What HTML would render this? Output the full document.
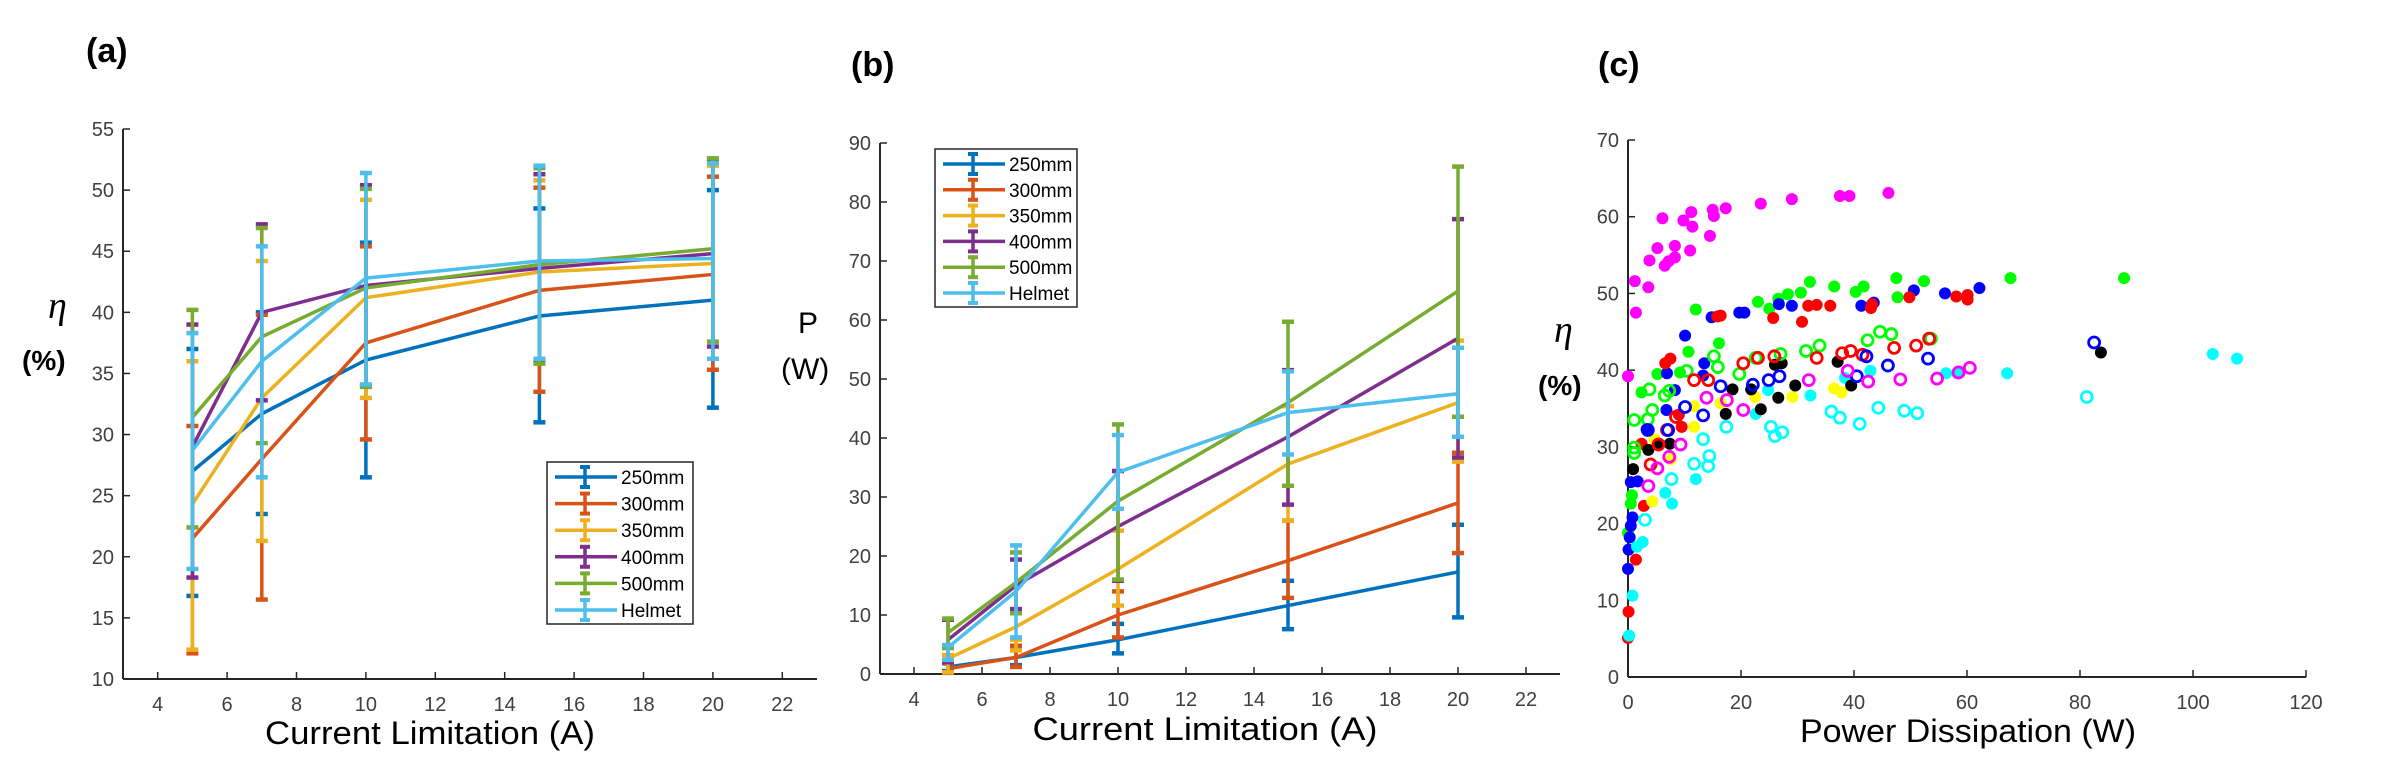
<!DOCTYPE html>
<html><head><meta charset="utf-8"><style>
html,body{margin:0;padding:0;background:#fff;}
svg{display:block;font-family:"Liberation Sans",sans-serif;}
.tk{fill:#404040;font-size:20px;font-family:"Liberation Sans Narrow","Liberation Sans",sans-serif;}
</style></head><body>
<svg id="fig" width="2393" height="776" viewBox="0 0 2393 776">
<text x="86" y="62" font-size="34" font-weight="bold" font-family="Liberation Sans Narrow,Liberation Sans,sans-serif">(a)</text>
<text x="851" y="76" font-size="34" font-weight="bold" font-family="Liberation Sans Narrow,Liberation Sans,sans-serif">(b)</text>
<text x="1598" y="76" font-size="34" font-weight="bold" font-family="Liberation Sans Narrow,Liberation Sans,sans-serif">(c)</text>
<text x="48" y="318" font-size="38" font-style="italic" font-family="Liberation Serif,serif">η</text>
<text x="22" y="370" font-size="28" font-weight="bold">(%)</text>
<text x="798" y="333" font-size="30">P</text>
<text x="781" y="379" font-size="30">(W)</text>
<text x="1554" y="342" font-size="38" font-style="italic" font-family="Liberation Serif,serif">η</text>
<text x="1538" y="395" font-size="28" font-weight="bold">(%)</text>
<text x="430" y="744" font-size="32" text-anchor="middle" textLength="330" lengthAdjust="spacingAndGlyphs">Current Limitation (A)</text>
<text x="1205" y="740" font-size="32" text-anchor="middle" textLength="345" lengthAdjust="spacingAndGlyphs">Current Limitation (A)</text>
<text x="1968" y="742" font-size="32" text-anchor="middle" textLength="336" lengthAdjust="spacingAndGlyphs">Power Dissipation (W)</text>
</svg>
<script>
const NS="http://www.w3.org/2000/svg";
const svg=document.getElementById('fig');
// ---- Data panels a & b ----
const currents=[5,7,10,15,20];
const seriesNames=['250mm','300mm','350mm','400mm','500mm','Helmet'];
const seriesColors=['#0072BD','#D95319','#EDB120','#7E2F8E','#77AC30','#4DBEEE'];
const effMean=[[27,31.7,36.1,39.7,41],[21.5,28,37.5,41.8,43.1],[24.3,33,41.2,43.3,44],[29,40,42.2,43.6,44.8],[31.4,38,42,43.9,45.2],[28.7,36,42.8,44.2,44.4]];
const effHigh=[[37,40,45.7,48.5,50],[30.7,39.8,45.4,50.2,51.1],[36,44.2,49.2,50.8,52],[39,47.2,50.4,51.3,52.4],[40.2,46.9,50.1,51.8,52.6],[38.3,45.4,51.4,52,52.2]];
const effLow=[[16.8,23.5,26.5,31,32.2],[12.1,16.5,29.6,33.5,35.3],[12.4,21.3,33,36,36.2],[18.3,32.8,34,36,37.2],[22.4,29.3,33.9,35.8,37.6],[19,26.5,34.1,36.2,36.2]];
const powMean=[[1.2,2.8,5.8,11.6,17.3],[0.9,2.8,10,19.2,29],[2.6,8,17.8,35.6,46],[5.8,15,25,40.2,56.9],[7,15.5,29.3,46,64.9],[4.5,14,34.2,44.3,47.5]];
const powHigh=[[2.2,4.5,8.5,15.8,25.3],[1.8,4.8,14,26,37.5],[3.2,5.8,24.3,45.4,56.5],[9.2,19.4,34.4,51.5,77.1],[9.4,20.6,42.3,59.7,86],[4.9,21.8,40.5,51.3,55.3]];
const powLow=[[0.5,1.5,3.5,7.6,9.6],[0.2,1.2,6.2,12.9,20.5],[0.3,4,11.6,26,36],[2,11,15.8,28.7,36.7],[4.4,10.3,16,31.9,43.6],[2.4,6.2,28,37.2,40.2]];
const xTicksAB=[4,6,8,10,12,14,16,18,20,22];
const yTicksA=[10,15,20,25,30,35,40,45,50,55];
const yTicksB=[0,10,20,30,40,50,60,70,80,90];
// ---- Data panel c ----
const cMagentaX=[0,1.2,1.4,3.6,3.8,5.2,6.1,6.5,7.2,8.3,8.3,9.8,11,11.2,11.4,14.5,15,15.2,17.3,23.5,29,37.5,39.2,46.1];
const cMagentaY=[39.2,51.6,47.5,50.8,54.3,55.9,59.8,53.6,54.2,56.2,54.7,59.5,55.6,60.6,58.7,57.5,60.9,60.1,61.1,61.7,62.3,62.7,62.7,63.1];
const cGreenX=[0,0.5,0.7,2.4,5.2,9.2,10.7,12,16.1,23,25,26.6,28.3,30.6,32.2,36.5,40.3,41.7,47.5,47.7,52.4,67.7,87.8];
const cGreenY=[18.8,22.6,23.7,37.1,39.5,39.7,42.4,47.9,43.5,48.9,48,49.3,49.9,50.1,51.5,50.9,50.2,50.9,52,49.5,51.6,52,52];
const cBlueX=[0,0.1,0.3,0.5,0.8,0.5,1.7,3.3,6.8,6.9,8.3,10.1,13.5,13.3,14.8,19.7,20.6,26.7,29,41.3,43.5,50.6,56.1,62.2];
const cBlueY=[14.1,16.6,18.2,19.7,20.8,25.4,25.5,32.3,34.8,39.6,37.4,44.5,40.9,39.3,46.9,47.5,47.5,48.6,48.4,48.4,48.8,50.4,50,50.7];
const cRedX=[0,0.1,1.4,2.8,2.4,6.6,7.5,9,9.5,15.8,16.4,25.7,30.8,31.9,33.4,35.8,43,43.2,49.8,58.1,60.1,60.1];
const cRedY=[5.1,8.5,15.3,22.3,30.4,40.9,41.5,34.2,32.6,47,47.1,46.8,46.3,48.4,48.5,48.4,48.1,48.6,49.5,49.6,49.2,49.8];
const cBlackX=[0.9,3.6,5.5,7.4,17.3,18.5,21.8,23.5,26,26.6,27.2,29.6,37.1,39.5,83.7];
const cBlackY=[27.1,29.6,30.4,30.4,34.3,37.5,37.5,34.9,40.7,36.4,40.9,38,41.1,38,42.3];
const cYellowX=[4.3,4.7,7.6,11.7,11.7,16.4,22.5,29.1,36.5,37.8];
const cYellowY=[22.9,31,28.4,32.6,35.3,35.7,36.5,36.5,37.6,37.1];
const cCyanX=[0.2,0.8,2.6,1.6,6.6,7.8,12,22.6,24.8,32.3,38.4,42.9,56.3,58.3,67.1,103.5,107.8];
const cCyanY=[5.4,10.6,17.6,17,24,22.6,25.8,34.3,37.4,36.7,39,39.9,39.6,39.6,39.6,42.1,41.5];
const oGreenX=[1.1,3.5,1.1,1.1,3.8,4.3,6.5,7.3,10.4,15.2,15.9,19.7,22.6,27,31.5,33.9,42.4,44.6,46.6,53.6];
const oGreenY=[33.5,33.6,29.9,29.2,37.5,34.8,36.7,37.3,39.9,41.8,40.4,39.5,41.6,42.1,42.5,43.2,43.9,45,44.7,44.1];
const oRedX=[4,5.4,8.5,11.7,14.2,20.4,23,25.9,33.4,37.9,39.4,41.5,47.1,51,53.3,6.9];
const oRedY=[27.7,30.3,33.9,38.7,38.7,40.9,41.6,41.8,41.6,42.2,42.5,42,42.9,43.2,44.1,32.2];
const oBlueX=[3.5,7.1,10.1,13.3,16.4,22.1,24.9,26.8,40.5,42.2,46,53.1,82.5];
const oBlueY=[32.2,32.2,35.2,34.1,37.9,38.1,38.7,39.2,39.2,41.8,40.6,41.5,43.6];
const oMagentaX=[3.6,5.2,7.3,9.3,13.9,17.5,20.4,32,38.9,42.5,48.2,54.7,58.5,60.5];
const oMagentaY=[24.9,27.2,28.7,30.3,36.4,36.1,34.8,38.7,39.9,38.5,38.8,38.9,39.7,40.3];
const oCyanX=[3,7.7,11.7,13.3,14.2,14.4,17.4,25.3,26,27.3,36,37.5,41,44.3,48.9,51.2,81.2];
const oCyanY=[20.5,25.8,27.8,31,27.5,28.8,32.6,32.6,31.4,31.9,34.6,33.8,33,35.1,34.7,34.4,36.5];
const xTicksC=[0,20,40,60,80,100,120];
const yTicksC=[0,10,20,30,40,50,60,70];

function el(tag,attrs,parent){const e=document.createElementNS(NS,tag);for(const k in attrs)e.setAttribute(k,attrs[k]);(parent||svg).appendChild(e);return e;}
function scale(d0,d1,p0,p1){return v=>p0+(v-d0)/(d1-d0)*(p1-p0);}

function axes(g,sx,sy,xr,yr,xt,yt,prefix){
  const x0=sx(xr[0]),x1=sx(xr[1]),y0=sy(yr[0]),y1=sy(yr[1]);
  const ax=el('line',{x1:x0,y1:y0,x2:x1,y2:y0,stroke:'#262626','stroke-width':2},g);
  
  
  const ay=el('line',{x1:x0,y1:y0,x2:x0,y2:y1,stroke:'#262626','stroke-width':2},g);
  
  
  xt.forEach(v=>{const x=sx(v);
    el('line',{x1:x,y1:y0,x2:x,y2:y0-7,stroke:'#262626','stroke-width':1.5},g);
    const t=el('text',{x:x,y:y0+32,'text-anchor':'middle',class:'tk'},g);t.textContent=v;
    
    });
  yt.forEach(v=>{const y=sy(v);
    el('line',{x1:x0,y1:y,x2:x0+7,y2:y,stroke:'#262626','stroke-width':1.5},g);
    const t=el('text',{x:x0-9,y:y+7,'text-anchor':'end',class:'tk'},g);t.textContent=v;
    
    });
}

function errPanel(prefix,sx,sy,mean,hi,lo){
  const g=el('g',{});
  
  
  seriesNames.forEach((n,i)=>{
    const c=seriesColors[i];
    const sg=el('g',{},g);
    
    
    currents.forEach((x,j)=>{
      const X=sx(x);
      el('line',{x1:X,y1:sy(hi[i][j]),x2:X,y2:sy(lo[i][j]),stroke:c,'stroke-width':3.5},sg);
      [hi[i][j],lo[i][j]].forEach(v=>el('line',{x1:X-6,y1:sy(v),x2:X+6,y2:sy(v),stroke:c,'stroke-width':4.5},sg));
    });
    const pl=el('polyline',{points:currents.map((x,j)=>sx(x)+','+sy(mean[i][j])).join(' '),fill:'none',stroke:c,'stroke-width':3.5},sg);
    
    
  });
}

function legend(prefix,x,y,w,h,step){
  const g=el('g',{});
  
  
  el('rect',{x:x,y:y,width:w,height:h,fill:'#fff',stroke:'#262626','stroke-width':1.5},g);
  seriesNames.forEach((n,i)=>{
    const c=seriesColors[i],cy=y+15+i*step,lx=x+8,mx=x+38;
    const e=el('g',{},g);
    
    
    el('line',{x1:lx,y1:cy,x2:lx+62,y2:cy,stroke:c,'stroke-width':3.5},e);
    el('line',{x1:mx,y1:cy-10,x2:mx,y2:cy+10,stroke:c,'stroke-width':3.5},e);
    el('line',{x1:mx-5,y1:cy-10,x2:mx+5,y2:cy-10,stroke:c,'stroke-width':4},e);
    el('line',{x1:mx-5,y1:cy+10,x2:mx+5,y2:cy+10,stroke:c,'stroke-width':4},e);
    const t=el('text',{x:lx+66,y:cy+7,'font-size':19,fill:'#000','font-family':'"Liberation Sans Narrow","Liberation Sans",sans-serif'},e);
    t.textContent=n;
  });
}

// Panel a
const sxA=scale(3,23,123,817), syA=scale(10,55,679,129);
const gA=el('g',{});
axes(gA,sxA,syA,[3,23],[10,55],xTicksAB,yTicksA,'panel-a');
errPanel('panel-a',sxA,syA,effMean,effHigh,effLow);
legend('panel-a',547,462,146,162,26.6);
// Panel b
const sxB=scale(3,23,880,1560), syB=scale(0,90,674,143);
const gB=el('g',{});
axes(gB,sxB,syB,[3,23],[0,90],xTicksAB,yTicksB,'panel-b');
errPanel('panel-b',sxB,syB,powMean,powHigh,powLow);
legend('panel-b',935,149,142,158,25.8);
// Panel c
const sxC=scale(0,120,1628,2306), syC=scale(0,70,677,140);
const gC=el('g',{});
axes(gC,sxC,syC,[0,120],[0,70],xTicksC,yTicksC,'panel-c');
function scatter(name,xs,ys,color,filled){
  const g=el('g',{});
  
  
  xs.forEach((x,i)=>{
    if(filled) el('circle',{cx:sxC(x),cy:syC(ys[i]),r:6,fill:color},g);
    else el('circle',{cx:sxC(x),cy:syC(ys[i]),r:5.5,fill:'none',stroke:color,'stroke-width':2.8},g);
  });
}
scatter('scatter-magenta-filled',cMagentaX,cMagentaY,'#ff00ff',true);
scatter('scatter-green-filled',cGreenX,cGreenY,'#00ff00',true);
scatter('scatter-blue-filled',cBlueX,cBlueY,'#0000ff',true);
scatter('scatter-red-filled',cRedX,cRedY,'#ff0000',true);
scatter('scatter-yellow-filled',cYellowX,cYellowY,'#ffff00',true);
scatter('scatter-cyan-filled',cCyanX,cCyanY,'#00ffff',true);
scatter('scatter-black-filled',cBlackX,cBlackY,'#000000',true);
scatter('scatter-cyan-open',oCyanX,oCyanY,'#00ffff',false);
scatter('scatter-green-open',oGreenX,oGreenY,'#00ff00',false);
scatter('scatter-red-open',oRedX,oRedY,'#ff0000',false);
scatter('scatter-blue-open',oBlueX,oBlueY,'#0000ff',false);
scatter('scatter-magenta-open',oMagentaX,oMagentaY,'#ff00ff',false);
</script>
</body></html>
